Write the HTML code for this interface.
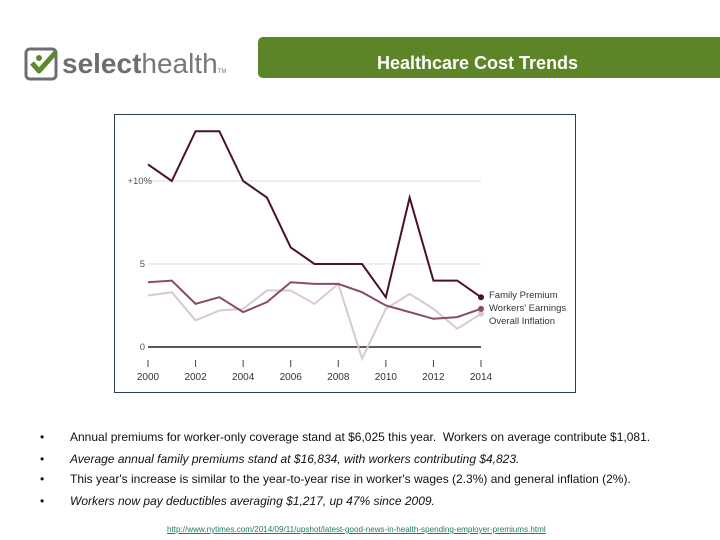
<!DOCTYPE html>
<html><head><meta charset="utf-8"><style>
body{margin:0;width:720px;height:540px;background:#fff;position:relative;overflow:hidden;font-family:"Liberation Sans",sans-serif}
.abs{position:absolute}
.bul{position:absolute;left:40px;font-size:12px;color:#111}
.bul span{position:absolute;left:30px;white-space:nowrap}
</style></head><body>
<div class="abs" style="left:24px;top:46px;width:210px;height:36px">
<svg width="210" height="36">
<rect x="2" y="3" width="30" height="30" rx="4" fill="none" stroke="#6d6e71" stroke-width="3"/>
<path d="M8 17 L15 25 L32 6" fill="none" stroke="#5a8a2a" stroke-width="5" stroke-linejoin="round"/>
<circle cx="15" cy="12" r="3" fill="#5a8a2a"/>
<text x="38" y="27" font-family="Liberation Sans" font-size="28" fill="#77787b"><tspan font-weight="bold" fill="#6d6e71">select</tspan>health<tspan font-size="6">TM</tspan></text>
</svg></div>
<div class="abs" style="left:258px;top:37px;width:470px;height:41px;background:#5b8527;border-radius:5px 0 0 5px;">
<div style="position:absolute;left:0;width:460px;top:16px;color:#fff;font-weight:bold;font-size:18px;"><span style="position:absolute;left:119px;white-space:nowrap">Healthcare Cost Trends</span></div></div>

<svg class="abs" style="left:0;top:0" width="720" height="540" id="chart">
<rect x="114.5" y="114.5" width="461" height="278" fill="#fff" stroke="#2c3e50" stroke-width="1"/>
</svg>

<div class="bul" style="top:430px">•<span>Annual premiums for worker-only coverage stand at $6,025 this year.&nbsp; Workers on average contribute $1,081.</span></div>
<div class="bul" style="top:452px">•<span style="font-style:italic">Average annual family premiums stand at $16,834, with workers contributing $4,823.</span></div>
<div class="bul" style="top:472px">•<span>This year's increase is similar to the year-to-year rise in worker's wages (2.3%) and general inflation (2%).</span></div>
<div class="bul" style="top:494px">•<span style="font-style:italic">Workers now pay deductibles averaging $1,217, up 47% since 2009.</span></div>
<div class="abs" style="left:167px;top:525px;font-size:8.1px;color:#1f7a6a;text-decoration:underline;white-space:nowrap">http://www.nytimes.com/2014/09/11/upshot/latest-good-news-in-health-spending-employer-premiums.html</div>

<script>
const years=[2000,2001,2002,2003,2004,2005,2006,2007,2008,2009,2010,2011,2012,2013,2014];
const family=[11,10,13,13,10,9,6,5,5,5,3,9,4,4,3];
const workers=[3.9,4.0,2.6,3.0,2.1,2.7,3.9,3.8,3.8,3.3,2.5,2.1,1.7,1.8,2.3];
const inflation=[3.1,3.3,1.6,2.2,2.3,3.4,3.4,2.6,3.8,-0.7,2.3,3.2,2.3,1.1,2.0];
const yTicks=[0,5,10];
const yTickLabels=["0","5","+10%"];
const xTicks=[2000,2002,2004,2006,2008,2010,2012,2014];
const seriesNames=["Family Premium","Workers' Earnings","Overall Inflation"];
const NS="http://www.w3.org/2000/svg";
const svg=document.getElementById('chart');
const xs=y=>148+(y-2000)*(481-148)/14;
const ys=v=>347-v*16.6;
function mk(t,a){const e=document.createElementNS(NS,t);for(const k in a)e.setAttribute(k,a[k]);svg.appendChild(e);return e;}
yTicks.forEach((t,i)=>{
 const l=mk('line',{x1:148,x2:481,y1:ys(t),y2:ys(t),stroke:t===0?'#222':'#ddd','stroke-width':t===0?1.5:1});
 
 
 const tx=mk('text',{x:t===10?152:145,y:ys(t)+3,'text-anchor':'end','font-size':9.5,fill:'#555','font-family':'Liberation Sans'});
 tx.textContent=yTickLabels[i];
 
 
});
xTicks.forEach(y=>{
 const l=mk('line',{x1:xs(y),x2:xs(y),y1:360,y2:367,stroke:'#444'});
 
 
 const tx=mk('text',{x:xs(y),y:380,'text-anchor':'middle','font-size':10,fill:'#333','font-family':'Liberation Sans'});
 tx.textContent=y;
 
 
});
const series=[[inflation,'#d9c9cf','inflation'],[workers,'#8a4a6a','workers-earnings'],[family,'#4a1030','family-premium']];
series.forEach(([d,c,n])=>{
 const p=mk('polyline',{points:d.map((v,i)=>xs(years[i])+','+ys(v)).join(' '),fill:'none',stroke:c,'stroke-width':2});
 
 
 const dot=mk('circle',{cx:xs(years[14]),cy:ys(d[14]),r:3,fill:c});
 
 
});
seriesNames.forEach((s,i)=>{
 const tx=mk('text',{x:489,y:298+i*13,'font-size':9.5,fill:'#333','font-family':'Liberation Sans'});
 tx.textContent=s;
 
 
});
</script>
</body></html>
